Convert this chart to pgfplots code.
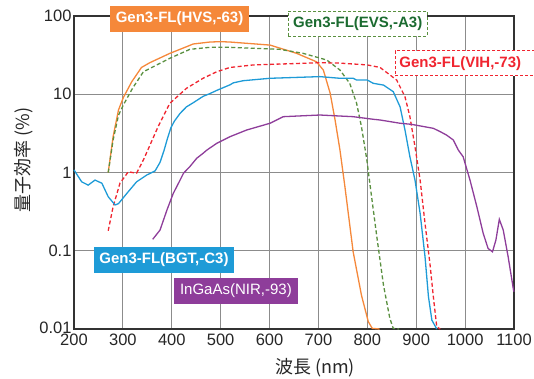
\documentclass[border=0pt]{standalone}
\usepackage{fontspec}
\setmainfont{Liberation Sans}
\newfontfamily\jp{Noto Sans CJK JP}
\usepackage{pgfplots}
\pgfplotsset{compat=1.18}
\definecolor{hvs}{HTML}{F5883A}
\definecolor{evs}{HTML}{5A9040}
\definecolor{evstext}{HTML}{1B6B30}
\definecolor{vih}{HTML}{F02530}
\definecolor{bgt}{HTML}{1E9BD7}
\definecolor{nir}{HTML}{8E3D9A}
\begin{document}
\begin{tikzpicture}
\useasboundingbox (-74pt,-49pt) rectangle (460pt,329pt);
\begin{axis}[
  at={(0pt,0pt)}, anchor=south west,
  scale only axis, width=440pt, height=313pt,
  ymode=log, log basis y=10,
  xmin=200, xmax=1100, ymin=0.01, ymax=100,
  xtick={200,300,400,500,600,700,800,900,1000,1100},
  xticklabels={200,300,400,500,600,700,800,900,1000,1100},
  ytick={0.01,0.1,1,10,100},
  yticklabels={\raisebox{3pt}{0.01},0.1,1,10,100},
  grid=both,
  major grid style={black!45, line width=0.8pt},
  minor grid style={black!30, line width=0.8pt},
  major tick length=0pt, minor tick length=0pt,
  axis line style={black!80, line width=1.1pt},
  ticklabel style={font=\fontsize{16.5}{19}\selectfont, text=black!85},
  yticklabel style={xshift=1pt},
  xticklabel style={yshift=-1.5pt},
  xlabel={\jp 波長 (nm)},
  ylabel={\jp 量子効率 (\%)},
  label style={font=\fontsize{18}{21}\selectfont, text=black!85},
  xlabel style={at={(axis description cs:0.548,-0.123)}, anchor=center},
  ylabel style={at={(axis description cs:-0.115,0.54)}, anchor=center},
  clip=false,
  every axis plot/.append style={line width=1.3pt},
]
% Gen3-FL(HVS,-63)
\addplot[hvs] coordinates {
(270,1.0) (280,2.87) (291,6.3) (301,9.1) (318,14.4) (338,22) (355,25.3) (396,33.3)
(444,43.9) (478,46.5) (500,47) (519,46.5) (601,42.5) (655,33.4) (696,26) (710,20.4)
(724,10.3) (734,4.7) (744,1.94) (754,0.67) (771,0.097) (788,0.027) (802,0.0124)
(810,0.0102) (825,0.01)};
% Gen3-FL(EVS,-A3)
\addplot[evs, dash pattern=on 4pt off 2.5pt] coordinates {
(270,1.0) (280,2.6) (291,5.4) (301,7.3) (320,12) (342,19.4) (396,28.8) (437,37.5)
(478,39.8) (519,39.8) (621,37.5) (669,33.3) (717,27.4) (744,20.4) (764,13.8)
(778,7.7) (788,3.85) (799,1.45) (806,0.66) (819,0.158) (833,0.0365) (846,0.0137)
(853,0.0102) (865,0.01)};
% Gen3-FL(VIH,-73)
\addplot[vih, dash pattern=on 4pt off 2.5pt] coordinates {
(270,0.18) (280,0.366) (294,0.73) (311,1.02) (328,0.98) (342,1.45) (348,1.76)
(372,3.85) (396,7.66) (430,11.9) (464,16) (492,19.4) (519,22) (567,23.7) (703,25.3)
(744,25) (800,23.7) (826,22) (860,15.2) (877,9.3) (887,5.2) (897.5,2.14) (908,0.80)
(918,0.224) (928,0.069) (935,0.026) (942,0.0107) (949,0.01)};
% Gen3-FL(BGT,-C3)
\addplot[bgt] coordinates {
(200,1.08) (215.7,0.76) (229,0.69) (243,0.80) (257,0.73) (270,0.49) (284,0.385)
(291,0.40) (308,0.54) (328,0.76) (349,0.93) (366,1.05) (376,1.35) (384,1.9) (391,2.7)
(398,3.7) (405,4.5) (417,5.7) (430,6.9) (444,7.8) (464,9.4) (478,10.2) (492,11.2) (519,13.2)
(526,14) (546,14.9) (601,16) (703,16.8) (744,16) (771,16) (778,15.2) (800,15.2)
(812,13.8) (833,13.1) (853,10.8) (867,6.9) (877,3.5) (887,1.6) (897.5,0.8)
(908,0.30) (918,0.084) (925,0.026) (932,0.013) (942,0.01)};
% InGaAs(NIR,-93)
\addplot[nir] coordinates {
(361,0.14) (376,0.184) (390,0.33) (403,0.54) (417,0.8) (424,0.98) (437,1.19)
(451,1.52) (464,1.76) (472,1.94) (492,2.36) (499,2.48) (519,2.87) (553,3.49)
(601,4.26) (628,5.17) (703,5.43) (744,5.27) (771,5.17) (812,4.79) (826,4.69)
(867,4.26) (890,4.13) (935,3.67) (949,3.33) (962,3.01) (976,2.6) (986,1.94)
(996,1.59) (1010,0.80) (1024,0.366) (1037,0.167) (1047,0.107) (1056,0.097)
(1063,0.137) (1070,0.252) (1078,0.184) (1088,0.084) (1099,0.0315) (1100,0.03)};
% labels
\node[fill=hvs, text=white, font=\bfseries\fontsize{15}{18}\selectfont,
  inner xsep=5.5pt, inner ysep=0pt, minimum height=26pt]
  at (axis description cs:0.2398,0.9904) {Gen3-FL(HVS,-63)};
\node[fill=white, draw=evs, dash pattern=on 3pt off 2pt, line width=0.9pt,
  text=evstext, font=\bfseries\fontsize{15}{18}\selectfont,
  inner xsep=5pt, inner ysep=0pt, minimum height=25pt]
  at (axis description cs:0.6448,0.976) {Gen3-FL(EVS,-A3)};
\node[fill=white, draw=vih, dash pattern=on 3pt off 2pt, line width=0.9pt,
  text=vih, font=\bfseries\fontsize{15}{18}\selectfont,
  inner xsep=4pt, inner ysep=0pt, minimum height=25pt, anchor=west,
  text width=142pt, align=left]
  at (axis description cs:0.7295,0.849) {Gen3-FL(VIH,-73)};
\node[fill=bgt, text=white, font=\bfseries\fontsize{15}{18}\selectfont,
  inner xsep=5.5pt, inner ysep=0pt, minimum height=26pt]
  at (axis description cs:0.2045,0.2204) {Gen3-FL(BGT,-C3)};
\node[fill=nir, text=white, font=\fontsize{15}{18}\selectfont,
  inner xsep=6pt, inner ysep=0pt, minimum height=26pt]
  at (axis description cs:0.368,0.1214) {InGaAs(NIR,-93)};
\end{axis}
\end{tikzpicture}
\end{document}
